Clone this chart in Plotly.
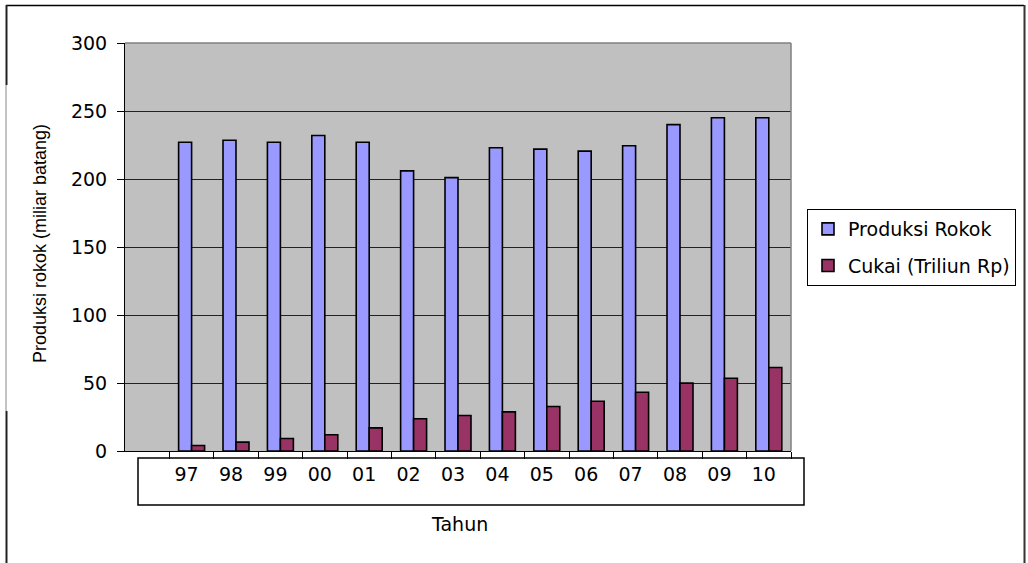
import plotly.graph_objects as go

# Years (two-digit) and the two series
years = ["97", "98", "99", "00", "01", "02", "03", "04", "05", "06", "07", "08", "09", "10"]
produksi_rokok = [227, 228.5, 227, 232, 227, 206, 201, 223, 222, 220.5, 224.5, 240, 245, 245]
cukai = [4, 6.5, 9.2, 12, 17, 23.7, 26.1, 28.8, 32.7, 36.6, 43.2, 49.9, 53.5, 61.4]

W, H = 1028, 563
L, R, T, B = 125, 791, 43, 451  # plot area in pixels


def px_x(x):
    return (x - L) / (R - L)


def px_y(y):
    return (B - y) / (B - T)


FONT = "DejaVu Sans, Liberation Sans, Arial, sans-serif"
TITLE_FONT = "Liberation Sans, Arial, sans-serif"

fig = go.Figure()
fig.add_trace(go.Bar(
    x=years, y=produksi_rokok, name="Produksi Rokok",
    marker=dict(color="#9999FF", line=dict(color="#000000", width=1.6)),
    legendgroup="a",
))
fig.add_trace(go.Bar(
    x=years, y=cukai, name="Cukai (Triliun Rp)",
    marker=dict(color="#993366", line=dict(color="#000000", width=1.6)),
    legendgroup="b",
))

shapes = [
    # frame around the category labels
    dict(type="rect", xref="paper", yref="paper",
         x0=px_x(138), x1=px_x(804), y0=px_y(458), y1=px_y(505),
         line=dict(color="#000000", width=1.5)),
    # plot-area border (top and right)
    dict(type="line", xref="paper", yref="paper", x0=0, x1=1, y0=1, y1=1,
         line=dict(color="#808080", width=1.5)),
    dict(type="line", xref="paper", yref="paper", x0=1, x1=1, y0=0, y1=1,
         line=dict(color="#808080", width=1.5)),
    # outer chart frame
    dict(type="line", xref="paper", yref="paper",
         x0=px_x(6), x1=px_x(1024), y0=px_y(5.5), y1=px_y(5.5),
         line=dict(color="#000000", width=1.5)),
    dict(type="line", xref="paper", yref="paper",
         x0=px_x(1024.5), x1=px_x(1024.5), y0=px_y(5), y1=px_y(570),
         line=dict(color="#333333", width=2)),
    dict(type="line", xref="paper", yref="paper",
         x0=px_x(6.5), x1=px_x(6.5), y0=px_y(5), y1=px_y(85),
         line=dict(color="#222222", width=2)),
    dict(type="line", xref="paper", yref="paper",
         x0=px_x(6), x1=px_x(6), y0=px_y(85), y1=px_y(411),
         line=dict(color="#888888", width=1)),
    dict(type="line", xref="paper", yref="paper",
         x0=px_x(6.5), x1=px_x(6.5), y0=px_y(411), y1=px_y(570),
         line=dict(color="#222222", width=2)),
]

annotations = [
    dict(text="Produksi rokok (miliar batang)", xref="paper", yref="paper",
         x=px_x(40), y=px_y(244), textangle=-90, showarrow=False,
         font=dict(family=TITLE_FONT, size=18, color="#000000"),
         xanchor="center", yanchor="middle"),
    dict(text="Tahun", xref="paper", yref="paper",
         x=px_x(459), y=px_y(524), showarrow=False,
         font=dict(family=FONT, size=19, color="#000000"),
         xanchor="center", yanchor="middle"),
]

fig.update_layout(
    width=W, height=H,
    margin=dict(l=L, r=W - R, t=T, b=H - B, pad=0, autoexpand=False),
    paper_bgcolor="#FFFFFF",
    plot_bgcolor="#C0C0C0",
    barmode="group",
    bargap=0.415,
    bargroupgap=0,
    font=dict(family=FONT, size=19, color="#000000"),
    legend=dict(
        x=px_x(807), y=px_y(209), xanchor="left", yanchor="top",
        bordercolor="#000000", borderwidth=1, bgcolor="#FFFFFF",
        font=dict(family=FONT, size=19, color="#000000"),
        tracegroupgap=9, itemwidth=30,
    ),
    shapes=shapes,
    annotations=annotations,
)

fig.update_xaxes(
    type="category", range=[-1.5, 13.5],
    showline=True, linecolor="#000000", linewidth=1,
    ticks="outside", tickson="boundaries", ticklen=7, tickcolor="#000000",
    showgrid=False, ticklabelshift=-5, ticklabelstandoff=6,
    tickfont=dict(family=FONT, size=19, color="#000000"),
)
fig.update_yaxes(
    range=[0, 300], dtick=50,
    showline=True, linecolor="#000000", linewidth=1,
    ticks="outside", ticklen=7, tickcolor="#000000",
    showgrid=True, gridcolor="#222222", gridwidth=1,
    zeroline=False, ticklabelstandoff=6,
    tickfont=dict(family=FONT, size=19, color="#000000"),
)

fig.write_html("out.html")
